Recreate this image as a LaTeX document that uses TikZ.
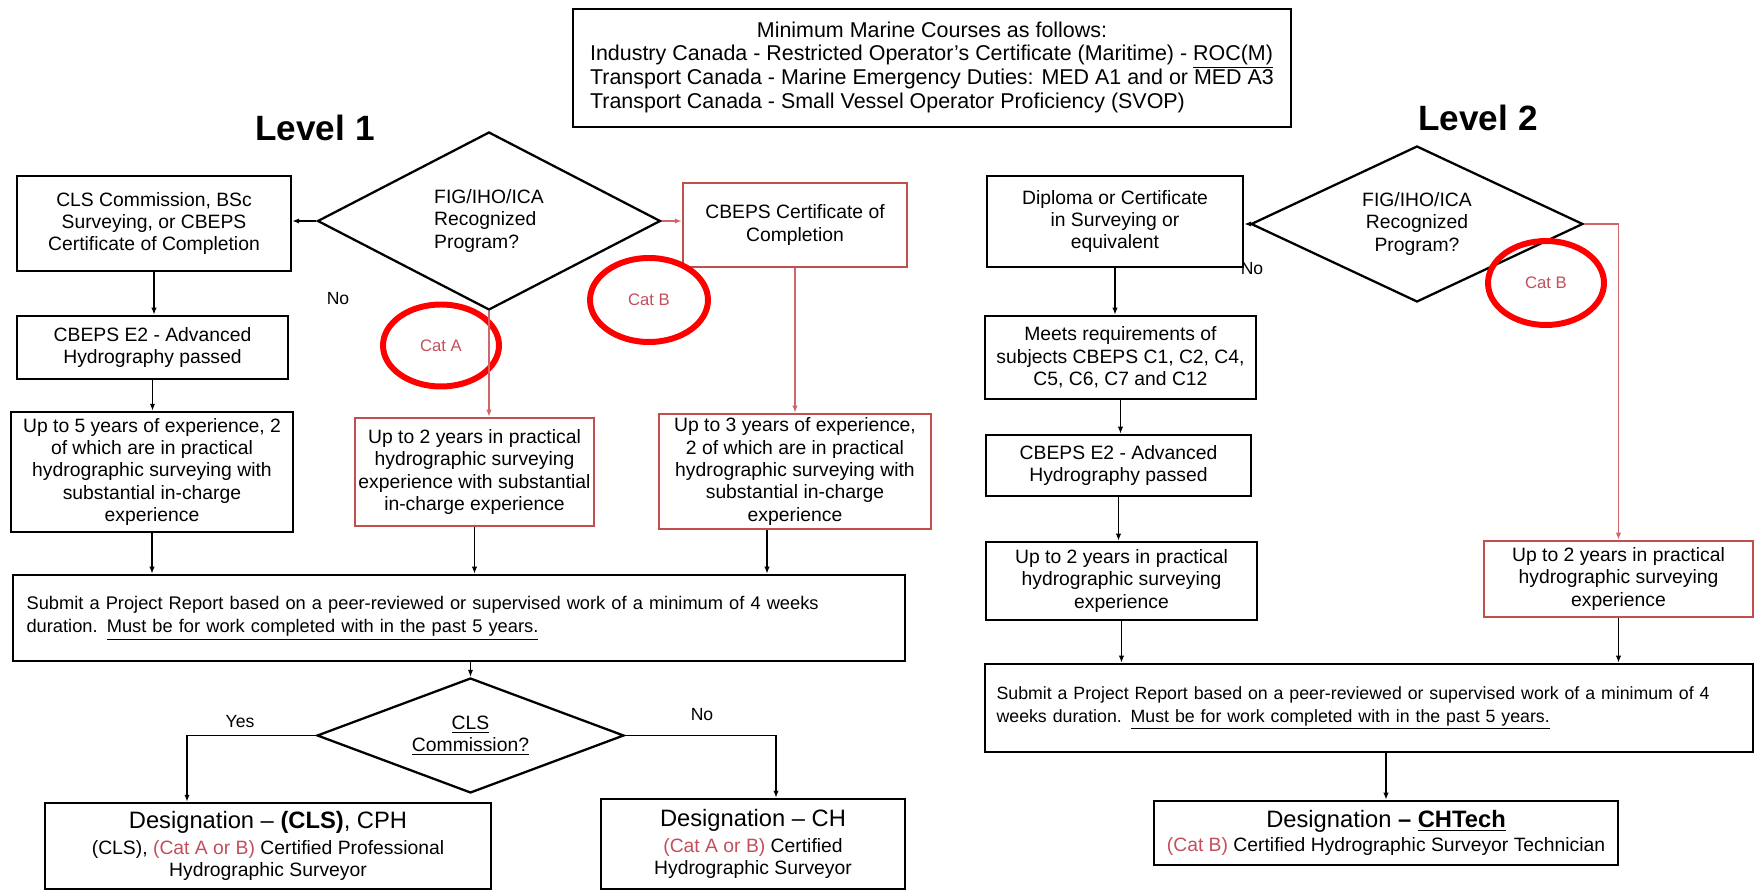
\documentclass[tikz,border=0pt]{standalone}
\usepackage{fontspec}
\setmainfont{Liberation Sans}
\usepackage{tikz}
\usepackage{xcolor}
\usetikzlibrary{shapes.geometric,arrows.meta}
\definecolor{boxred}{HTML}{C0504D}
\definecolor{catred}{HTML}{C24F5C}
\definecolor{ringred}{HTML}{FF0000}
\definecolor{linered}{HTML}{D2646B}

\begin{document}
\begin{tikzpicture}[x=0.02cm, y=-0.02cm,
  box/.style={draw, line width=1.4pt, align=center, inner sep=2pt,
              font=\fontsize{11}{12.7}\selectfont},
  redbox/.style={box, draw=boxred},
  submit/.style={align=left, font=\fontsize{10.4}{13.5}\selectfont},
  dec/.style={draw, diamond, line width=1.3pt, inner sep=0pt, align=center,
              font=\fontsize{11}{12.7}\selectfont},
  cat/.style={ellipse, draw=ringred, line width=3.4pt, text=catred,
              font=\fontsize{9.5}{11}\selectfont},
  lbl/.style={font=\fontsize{10}{12}\selectfont},
  title/.style={font=\fontsize{20}{24}\selectfont\bfseries},
  arr/.style={-{Latex[length=4pt,width=3pt]}, line width=0.7pt},
  rarr/.style={arr, draw=linered}
]
  \useasboundingbox (0,0) rectangle (1756,891);
  % Marine courses
  \node[box, line width=1.6pt, minimum width=14.36cm, minimum height=2.36cm,
        font=\fontsize{12.2}{13.3}\selectfont] (marine) at (932,68)
    {\begin{tabular}{@{}l@{}}\multicolumn{1}{@{}c@{}}{Minimum Marine Courses as follows:}\\
     Industry Canada - Restricted Operator's Certificate (Maritime) - \underline{ROC(M)}\\
     Transport Canada - Marine Emergency Duties: MED A1 and or MED A3\\
     Transport Canada - Small Vessel Operator Proficiency (SVOP)\end{tabular}};
  \node[title] (lvlA) at (315,128) {Level 1};
  \node[title] (lvlB) at (1478,118) {Level 2};

  % Level 1
  \node[box, minimum width=5.48cm, minimum height=1.9cm] (clsA) at (154,223.5)
    {CLS Commission, BSc\\Surveying, or CBEPS\\Certificate of Completion};
  \node[dec, align=left, aspect=1.93, minimum width=6.86cm, minimum height=3.56cm] (progA) at (489,221)
    {FIG/IHO/ICA\\Recognized\\Program?};
  \node[redbox, minimum width=4.48cm, minimum height=1.68cm] (certA) at (795,225)
    {CBEPS Certificate of\\Completion};
  \node[lbl] (noA) at (338,299) {No};
  \node[cat, minimum width=2.32cm, minimum height=1.64cm] (catA) at (441,345.5) {Cat A};
  \node[cat, minimum width=2.36cm, minimum height=1.68cm] (catB) at (649,300) {Cat B};
  \node[box, minimum width=5.42cm, minimum height=1.26cm] (hydA) at (152.5,347.5)
    {CBEPS E2 - Advanced\\Hydrography passed};
  \node[box, minimum width=5.64cm, minimum height=2.4cm] (expA) at (152,472)
    {Up to 5 years of experience, 2\\of which are in practical\\hydrographic surveying with\\substantial in-charge\\experience};
  \node[redbox, minimum width=4.78cm, minimum height=2.16cm] (expCatA) at (474.5,472)
    {Up to 2 years in practical\\hydrographic surveying\\experience with substantial\\in-charge experience};
  \node[redbox, minimum width=5.44cm, minimum height=2.3cm] (expCatB) at (795,471.5)
    {Up to 3 years of experience,\\2 of which are in practical\\hydrographic surveying with\\substantial in-charge\\experience};
  \node[box, submit, minimum width=17.84cm, minimum height=1.72cm, text width=17.3cm] (repA) at (459,618)
    {Submit a Project Report based on a peer-reviewed or supervised work of a minimum of 4 weeks\\
     duration. \underline{Must be for work completed with in the past 5 years.}};
  \node[dec, aspect=2.67, minimum width=6.14cm, minimum height=2.3cm] (clsQ) at (470.5,735.5)
    {\underline{CLS}\\\underline{Commission?}};
  \node[lbl] (yes) at (240,722) {Yes};
  \node[lbl] (noB) at (702,715) {No};
  \node[box, minimum width=8.92cm, minimum height=1.72cm] (cph) at (268,846)
    {{\fontsize{13.5}{16}\selectfont Designation -- \textbf{(CLS)}, CPH}\\[2pt]
     (CLS), \textcolor{catred}{(Cat A or B)} Certified Professional\\Hydrographic Surveyor};
  \node[box, minimum width=6.08cm, minimum height=1.8cm] (ch) at (753,844)
    {{\fontsize{13.5}{16}\selectfont Designation -- CH}\\[2pt]
     \textcolor{catred}{(Cat A or B)} Certified\\Hydrographic Surveyor};

  % Level 2
  \node[box, minimum width=5.12cm, minimum height=1.82cm] (diplB) at (1115,221.5)
    {Diploma or Certificate\\in Surveying or\\equivalent};
  \node[dec, aspect=2.13, minimum width=6.64cm, minimum height=3.12cm] (progB) at (1417,224)
    {FIG/IHO/ICA\\Recognized\\Program?};
  \node[lbl] (noC) at (1252,269) {No};
  \node[cat, minimum width=2.32cm, minimum height=1.68cm] (catC) at (1546,283) {Cat B};
  \node[box, minimum width=5.42cm, minimum height=1.66cm] (meetB) at (1120.5,357.5)
    {Meets requirements of\\subjects CBEPS C1, C2, C4,\\C5, C6, C7 and C12};
  \node[box, minimum width=5.3cm, minimum height=1.22cm] (hydB) at (1118.5,465.5)
    {CBEPS E2 - Advanced\\Hydrography passed};
  \node[box, minimum width=5.42cm, minimum height=1.56cm] (expB) at (1121.5,581)
    {Up to 2 years in practical\\hydrographic surveying\\experience};
  \node[redbox, minimum width=5.38cm, minimum height=1.52cm] (expCatC) at (1618.5,579)
    {Up to 2 years in practical\\hydrographic surveying\\experience};
  \node[box, submit, font=\fontsize{10.1}{13}\selectfont, minimum width=15.36cm, minimum height=1.76cm,
        text width=14.9cm] (repB) at (1369,708)
    {Submit a Project Report based on a peer-reviewed or supervised work of a minimum of 4\\
     weeks duration. \underline{Must be for work completed with in the past 5 years.}};
  \node[box, minimum width=9.28cm, minimum height=1.28cm] (tech) at (1386,833)
    {{\fontsize{13.5}{16}\selectfont Designation \textbf{-- \underline{CHTech}}}\\[1pt]
     \textcolor{catred}{(Cat B)} Certified Hydrographic Surveyor Technician};

  % Level 1 connectors
  \draw[arr]  (progA.west) -- (progA.west -| clsA.east);
  \draw[rarr] (progA.east) -- (progA.east -| certA.west);
  \draw[arr]  (clsA.south) -- (clsA.south |- hydA.north);
  \draw[arr]  (hydA.south) -- (hydA.south |- expA.north);
  \draw[rarr] (progA.south) -- (progA.south |- expCatA.north);
  \draw[rarr] (certA.south) -- (certA.south |- expCatB.north);
  \draw[arr]  (expA.south) -- (expA.south |- repA.north);
  \draw[arr]  (expCatA.south) -- (expCatA.south |- repA.north);
  \draw[arr]  ([xshift=-0.56cm]expCatB.south) -- ([xshift=-0.56cm]expCatB.south |- repA.north);
  \draw[arr]  (repA.south -| clsQ.north) -- (clsQ.north);
  \draw[arr]  (clsQ.west) -| ([xshift=-1.62cm]cph.north);
  \draw[arr]  (clsQ.east) -| ([xshift=0.46cm]ch.north);

  % Level 2 connectors
  \draw[arr]  (progB.west) -- (progB.west -| diplB.east);
  \draw[rarr] (progB.east) -| (expCatC.north);
  \draw[arr]  (diplB.south) -- (diplB.south |- meetB.north);
  \draw[arr]  (meetB.south) -- (meetB.south |- hydB.north);
  \draw[arr]  (hydB.south) -- (hydB.south |- expB.north);
  \draw[arr]  (expB.south) -- (expB.south |- repB.north);
  \draw[arr]  (expCatC.south) -- (expCatC.south |- repB.north);
  \draw[arr]  (repB.south -| tech.north) -- (tech.north);
\end{tikzpicture}
\end{document}
